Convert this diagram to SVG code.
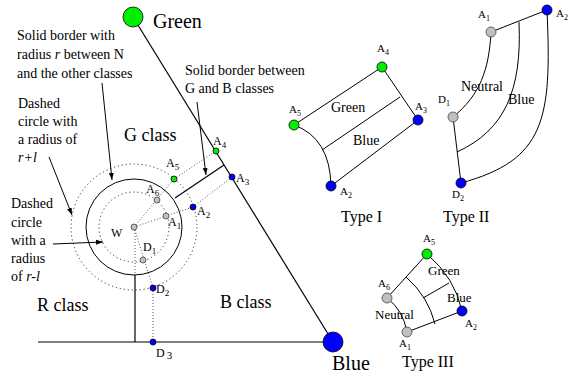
<svg xmlns="http://www.w3.org/2000/svg" width="571" height="377" viewBox="0 0 571 377" font-family="'Liberation Serif', 'Times New Roman', serif">
<defs>
<style>
.t14{font-size:14px}
.cls{font-size:18px}
.big{font-size:20px}
.lbl{font-size:12px}
.sl{font-size:11px}
.ln{stroke:#000;stroke-width:1.2;fill:none}
.thin{stroke:#000;stroke-width:1;fill:none}
.dot{stroke:#555;stroke-width:1;stroke-dasharray:1 2;fill:none}
.dc{stroke:#333;stroke-width:1;stroke-dasharray:1.2 2.8;fill:none}
.g{fill:#00ee00;stroke:#000;stroke-width:0.8}
.b{fill:#0000ff;stroke:#000;stroke-width:0.8}
.n{fill:#c0c0c0;stroke:#444;stroke-width:0.8}
</style>
<marker id="ar" viewBox="0 0 10 10" refX="10" refY="5" markerWidth="7" markerHeight="7" orient="auto" markerUnits="userSpaceOnUse">
<path d="M0,1.5 L10,5 L0,8.5 Z" fill="#000"/>
</marker>
</defs>
<rect width="571" height="377" fill="#fff"/>

<g id="connectors">
<line class="ln" x1="133" y1="17" x2="333" y2="342"/>
<line class="ln" x1="38" y1="342" x2="333" y2="342"/>
<circle class="thin" cx="134" cy="227" r="48" stroke-width="1.3"/>
<circle class="dc" cx="134" cy="227" r="63"/>
<circle class="dc" cx="134" cy="227" r="35"/>
<line class="ln" x1="175" y1="198" x2="224" y2="165"/>
<line class="ln" x1="135" y1="275" x2="135" y2="342"/>
<line class="dot" x1="135" y1="227" x2="135" y2="275"/>
<line class="dot" x1="134" y1="227" x2="174" y2="179"/>
<line class="dot" x1="134" y1="227" x2="193" y2="207"/>
<line class="dot" x1="174" y1="179" x2="216" y2="151"/>
<line class="dot" x1="193" y1="207" x2="232" y2="177"/>
<line class="dot" x1="134" y1="227" x2="153" y2="288"/>
<line class="dot" x1="153" y1="288" x2="153" y2="342"/>
<line class="thin" x1="102" y1="83" x2="112" y2="180" marker-end="url(#ar)"/>
<line class="thin" x1="197" y1="102" x2="206" y2="175" marker-end="url(#ar)"/>
<line class="thin" x1="49" y1="157" x2="72" y2="215" marker-end="url(#ar)"/>
<line class="thin" x1="53" y1="244" x2="103" y2="242" marker-end="url(#ar)"/>
</g>

<g id="green-node" font-family="'Liberation Serif', serif">
<circle class="g" cx="133" cy="17" r="10"/>
<text font-size="20" x="153" y="28">Green</text>
</g>
<g id="blue-node" font-family="'Liberation Serif', serif">
<circle class="b" cx="333" cy="342" r="10"/>
<text font-size="20" x="332" y="370">Blue</text>
</g>

<g id="labels" font-family="'Liberation Serif', serif" font-size="14">
<text x="17" y="40">Solid border with</text>
<text x="17" y="59">radius <tspan font-style="italic">r</tspan> between N</text>
<text x="17" y="78">and the other classes</text>
<text x="18" y="108">Dashed</text>
<text x="18" y="126">circle with</text>
<text x="18" y="144">a radius of</text>
<text x="18" y="162" font-style="italic">r+l</text>
<text x="11" y="208">Dashed</text>
<text x="11" y="227">circle</text>
<text x="11" y="245">with a</text>
<text x="11" y="263">radius</text>
<text x="11" y="281">of <tspan font-style="italic">r-l</tspan></text>
<text x="185" y="75">Solid border between</text>
<text x="185" y="93">G and B classes</text>
<text font-size="18" x="124" y="141">G class</text>
<text font-size="18" x="37" y="311">R class</text>
<text font-size="18" x="220" y="308">B class</text>
</g>

<g id="points" font-family="'Liberation Serif', serif" font-size="12">
<circle class="n" cx="134" cy="227" r="3"/>
<text x="111" y="237">W</text>
<circle class="n" cx="157" cy="200" r="3"/>
<text x="146" y="193">A<tspan font-size="9" dy="3">6</tspan></text>
<circle class="n" cx="166" cy="216" r="3"/>
<text x="168" y="226">A<tspan font-size="9" dy="3">1</tspan></text>
<circle class="g" cx="174" cy="179" r="3"/>
<text x="166" y="167">A<tspan font-size="9" dy="3">5</tspan></text>
<circle class="b" cx="193" cy="207" r="3"/>
<text x="197" y="215">A<tspan font-size="9" dy="3">2</tspan></text>
<circle class="g" cx="216" cy="151" r="3"/>
<text x="213" y="145">A<tspan font-size="9" dy="3">4</tspan></text>
<circle class="b" cx="232" cy="177" r="3"/>
<text x="236" y="182">A<tspan font-size="9" dy="3">3</tspan></text>
<circle class="n" cx="143" cy="260" r="3"/>
<text x="143" y="251">D<tspan font-size="9" dy="3">1</tspan></text>
<circle class="b" cx="153" cy="288" r="3"/>
<text x="156" y="293">D<tspan font-size="9" dy="3">2</tspan></text>
<circle class="b" cx="153" cy="342" r="3"/>
<text x="156" y="357">D<tspan font-size="11" dx="2" dy="2">3</tspan></text>
</g>

<g id="type1" font-family="'Liberation Serif', serif" font-size="11">
<path class="thin" d="M294,125 L382,67 L418,120 L331,186"/>
<path class="thin" d="M294,125 Q330,138 331,186"/>
<line class="thin" x1="400" y1="97" x2="322" y2="150"/>
<circle class="g" cx="382" cy="67" r="5"/>
<circle class="b" cx="418" cy="120" r="5"/>
<circle class="g" cx="294" cy="125" r="5"/>
<circle class="b" cx="331" cy="186" r="5"/>
<text x="377" y="52">A<tspan font-size="8" dy="3">4</tspan></text>
<text x="289" y="113">A<tspan font-size="8" dy="3">5</tspan></text>
<text x="415" y="110">A<tspan font-size="8" dy="3">3</tspan></text>
<text x="340" y="195">A<tspan font-size="8" dy="3">2</tspan></text>
<text font-size="14" x="331" y="112">Green</text>
<text font-size="14" x="353" y="145">Blue</text>
<text x="341" y="222" font-size="16">Type I</text>
</g>

<g id="type2" font-family="'Liberation Serif', serif" font-size="11">
<line class="thin" x1="491" y1="32" x2="547" y2="10"/>
<path class="thin" d="M547,10 C552,120 545,160 461,183"/>
<line class="thin" x1="461" y1="183" x2="453" y2="117"/>
<path class="thin" d="M491,32 C489,70 480,95 453,117"/>
<path class="thin" d="M519,22 C522,90 505,130 457,152"/>
<circle class="n" cx="491" cy="32" r="5"/>
<circle class="b" cx="547" cy="10" r="5"/>
<circle class="n" cx="453" cy="117" r="5"/>
<circle class="b" cx="461" cy="183" r="5"/>
<text x="478" y="18">A<tspan font-size="8" dy="3">1</tspan></text>
<text x="556" y="17">A<tspan font-size="8" dy="3">2</tspan></text>
<text x="438" y="103">D<tspan font-size="8" dy="3">1</tspan></text>
<text x="452" y="198">D<tspan font-size="8" dy="3">2</tspan></text>
<text font-size="14" x="461" y="91">Neutral</text>
<text font-size="14" x="508" y="104">Blue</text>
<text x="443" y="222" font-size="16">Type II</text>
</g>

<g id="type3" font-family="'Liberation Serif', serif" font-size="11">
<line class="thin" x1="427" y1="254" x2="387" y2="298"/>
<path class="thin" d="M387,298 Q403,310 407,332"/>
<line class="thin" x1="407" y1="332" x2="462" y2="311"/>
<path class="thin" d="M462,311 Q455,278 427,254"/>
<path class="thin" d="M406,277 Q428,296 435,324"/>
<line class="thin" x1="423" y1="298" x2="449" y2="283"/>
<circle class="g" cx="427" cy="254" r="5"/>
<circle class="n" cx="387" cy="298" r="5"/>
<circle class="n" cx="407" cy="332" r="5"/>
<circle class="b" cx="462" cy="311" r="5"/>
<text x="423" y="242">A<tspan font-size="8" dy="3">5</tspan></text>
<text x="378" y="287">A<tspan font-size="8" dy="3">6</tspan></text>
<text x="399" y="347">A<tspan font-size="8" dy="3">1</tspan></text>
<text x="465" y="327">A<tspan font-size="8" dy="3">2</tspan></text>
<text x="428" y="275" font-size="13">Green</text>
<text x="447" y="302" font-size="13">Blue</text>
<text x="375" y="319" font-size="13">Neutral</text>
<text x="402" y="367" font-size="16">Type III</text>
</g>
</svg>
